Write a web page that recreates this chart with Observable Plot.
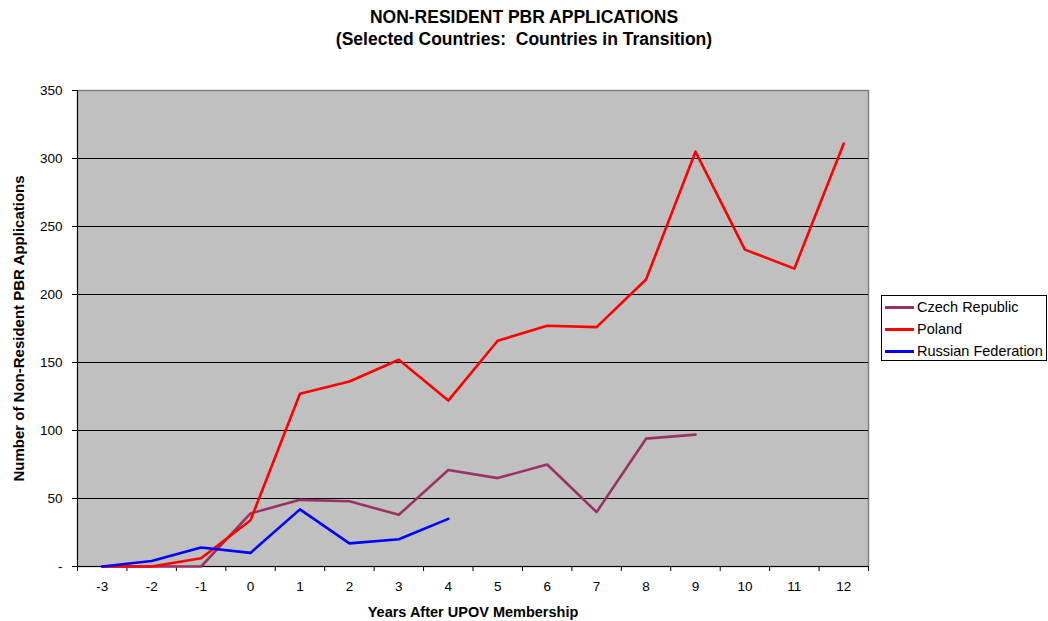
<!DOCTYPE html>
<html>
<head>
<meta charset="utf-8">
<script src="https://cdn.jsdelivr.net/npm/d3@7"></script>
<script src="https://cdn.jsdelivr.net/npm/@observablehq/plot@0.6"></script>
<style>
  body { margin: 0; background: #fff; font-family: "Liberation Sans", Arial, sans-serif; }
  #wrap { position: relative; width: 1048px; height: 621px; }
  #title { position: absolute; left: 0; top: 6px; width: 1048px; text-align: center; font-weight: bold; font-size: 17.5px; line-height: 22px; color: #000; }
  #chart { position: absolute; left: 0; top: 0; }
  #legend { position: absolute; left: 881px; top: 295px; width: 164px; height: 64px; border: 1px solid #000; background: #fff; font-size: 14.5px; }
  .li { position: absolute; left: 3px; height: 20px; display: flex; align-items: center; white-space: nowrap; }
  .sw { width: 29px; height: 3px; margin-right: 3px; }
  g[aria-label="x-axis label"] text { font-weight: bold; font-size: 14.5px; }
  g[aria-label="y-axis label"] text { font-weight: bold; font-size: 15px; }
</style>
</head>
<body>
<div id="wrap">
  <div id="chart"></div>
  <div id="title">NON-RESIDENT PBR APPLICATIONS<br>(Selected Countries:&nbsp; Countries in Transition)</div>
  <div id="legend"></div>
</div>
<script>
const years = [-3, -2, -1, 0, 1, 2, 3, 4, 5, 6, 7, 8, 9, 10, 11, 12];
const seriesNames = ["Czech Republic", "Poland", "Russian Federation"];
const seriesColors = ["#993366", "#ff0000", "#0000ff"];
const czech = [0, 0, 0, 39, 49, 48, 38, 71, 65, 75, 40, 94, 97];
const poland = [0, 0, 6, 34, 127, 136, 152, 122, 166, 177, 176, 211, 305, 233, 219, 311];
const russia = [0, 4, 14, 10, 42, 17, 20, 35];
const yTicks = [0, 50, 100, 150, 200, 250, 300, 350];

const seriesValues = [czech, poland, russia];
const data = [];
seriesValues.forEach((vals, i) => vals.forEach((v, j) => data.push({series: seriesNames[i], year: years[j], value: v})));

const boundaries = years.map(y => y - 0.5).concat([years[years.length - 1] + 0.5]);
const xDomain = [boundaries[0], boundaries[boundaries.length - 1]];

const chart = Plot.plot({
  width: 1048,
  height: 621,
  marginLeft: 77,
  marginRight: 180,
  marginTop: 90,
  marginBottom: 55,
  style: { fontFamily: "Liberation Sans, Arial, sans-serif", fontSize: "13.5px", color: "#000", background: "transparent" },
  x: { domain: xDomain },
  y: { domain: [0, 350] },
  color: { domain: seriesNames, range: seriesColors },
  marks: [
    Plot.frame({ fill: "#c0c0c0", stroke: "#808080", strokeWidth: 1.5 }),
    Plot.ruleY(yTicks.slice(1, -1), { stroke: "#000", strokeWidth: 1 }),
    Plot.ruleY([0], { stroke: "#000", strokeWidth: 1 }),
    Plot.ruleX([xDomain[0]], { stroke: "#000", strokeWidth: 1 }),
    Plot.axisY({ ticks: yTicks, tickSize: 5, tickPadding: 10, tickFormat: d => d === 0 ? "-" : String(d),
      label: "Number of Non-Resident PBR Applications", labelAnchor: "center", labelOffset: 64, labelArrow: "none" }),
    Plot.axisX({ ticks: boundaries, tickSize: 5, tickFormat: () => "", label: null }),
    Plot.axisX({ ticks: years, tickSize: 0, tickPadding: 15, tickFormat: d => String(d),
      label: "Years After UPOV Membership", labelAnchor: "center", labelOffset: 50, labelArrow: "none" }),
    Plot.line(data, { x: "year", y: "value", z: "series", stroke: "series", strokeWidth: 2.6 })
  ]
});
document.getElementById("chart").appendChild(chart);

const legend = document.getElementById("legend");
seriesNames.forEach((name, i) => {
  const row = document.createElement("div");
  row.className = "li";
  row.style.top = (1 + i * 22) + "px";
  row.innerHTML = `<span class="sw" style="background:${seriesColors[i]}"></span><span>${name}</span>`;
  legend.appendChild(row);
});
</script>
</body>
</html>
